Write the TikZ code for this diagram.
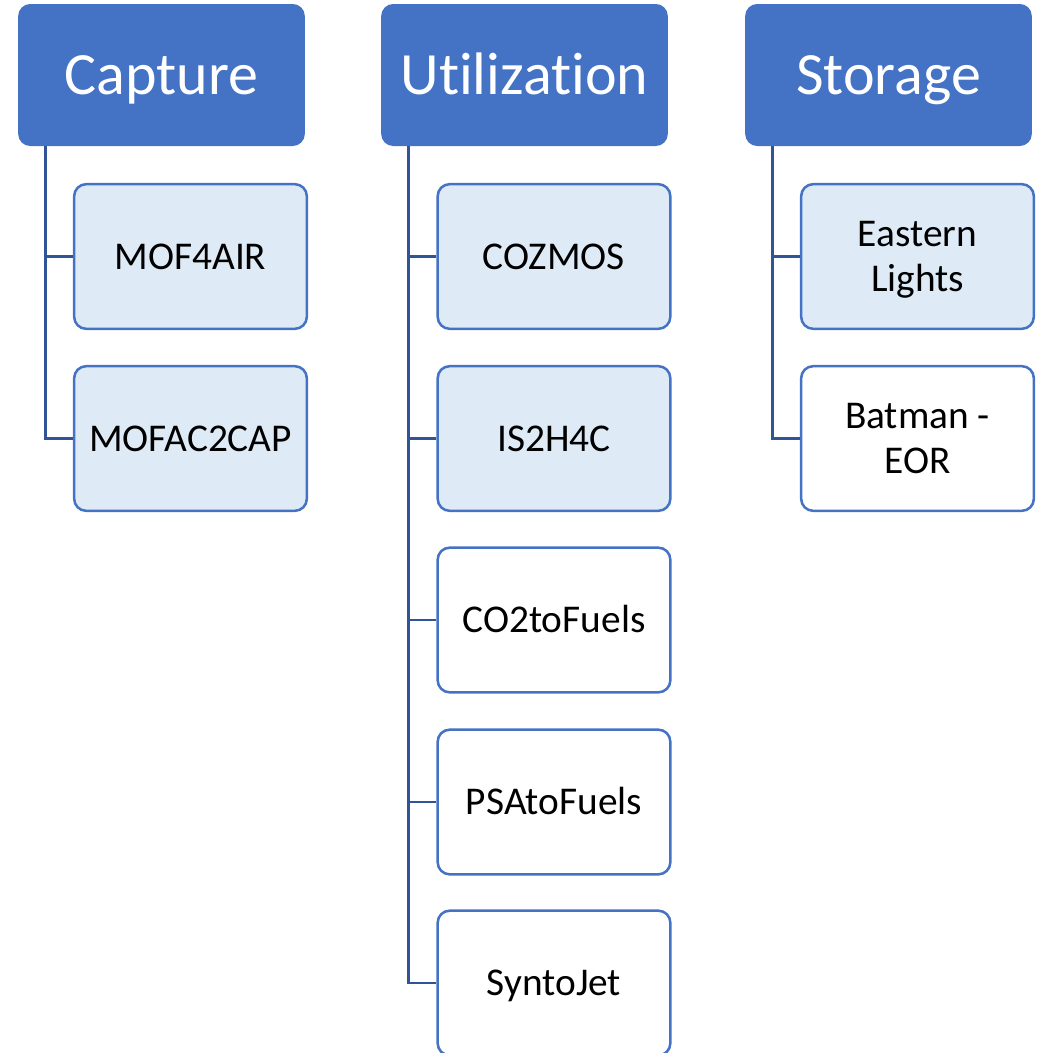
\documentclass[tikz,border=0pt]{standalone}
\usepackage{fontspec}
\setmainfont{Carlito}[Ligatures=NoCommon]
\usetikzlibrary{positioning,calc}
\definecolor{headblue}{RGB}{68,114,196}
\definecolor{linkblue}{RGB}{47,85,151}
\definecolor{paleblue}{RGB}{222,235,247}
\newcommand \mybranch[2]
{
\draw[link] ($(#1.south west)+(28,0)$) |- (#2.west);
}
\begin{document}
\begin{tikzpicture}[x=0.75pt,y=-0.75pt,
  head/.style={fill=headblue, text=white, rounded corners=9pt, minimum width=215pt, minimum height=106.5pt, text height=29pt, text depth=0pt, font=\fontsize{45}{54}\selectfont},
  item/.style={draw=headblue, line width=1.9pt, fill=white, rounded corners=9pt, minimum width=174.5pt, minimum height=108.5pt, align=center, text height=19pt, text depth=0pt, font=\fontsize{29.5}{34}\selectfont},
  hot/.style={item, fill=paleblue},
  twoline/.style={text height=53pt},
  link/.style={draw=linkblue, line width=2.2pt}]
\useasboundingbox (0,0) rectangle (1043,1053);
\clip (0,0) rectangle (1043,1053);
% headers
\node[head] (cap) at (161.5,75)  {Capture};
\node[head] (uti) at (524.5,75)  {Utilization};
\node[head] (sto) at (888.5,75)  {Storage};
% capture
\node[hot]  (mof)  at (190.5,256.5) {MOF4AIR};
\node[hot]  (mofac) at (190.5,438.5) {MOFAC2CAP};
% utilization
\node[hot]  (coz)  at (554,256.5) {COZMOS};
\node[hot]  (is2)  at (554,438.5) {IS2H4C};
\node[item] (co2)  at (554,620)   {CO2toFuels};
\node[item] (psa)  at (554,802)   {PSAtoFuels};
\node[item] (syn)  at (554,983)   {SyntoJet};
% storage
\node[hot,twoline]  (east) at (917.5,256.5) {Eastern\\Lights};
\node[item,twoline] (bat)  at (917.5,438.5) {Batman -\\EOR};
% links
\mybranch{cap}{mof}
\mybranch{cap}{mofac}
\mybranch{uti}{coz}
\mybranch{uti}{is2}
\mybranch{uti}{co2}
\mybranch{uti}{psa}
\mybranch{uti}{syn}
\mybranch{sto}{east}
\mybranch{sto}{bat}
\end{tikzpicture}
\end{document}
